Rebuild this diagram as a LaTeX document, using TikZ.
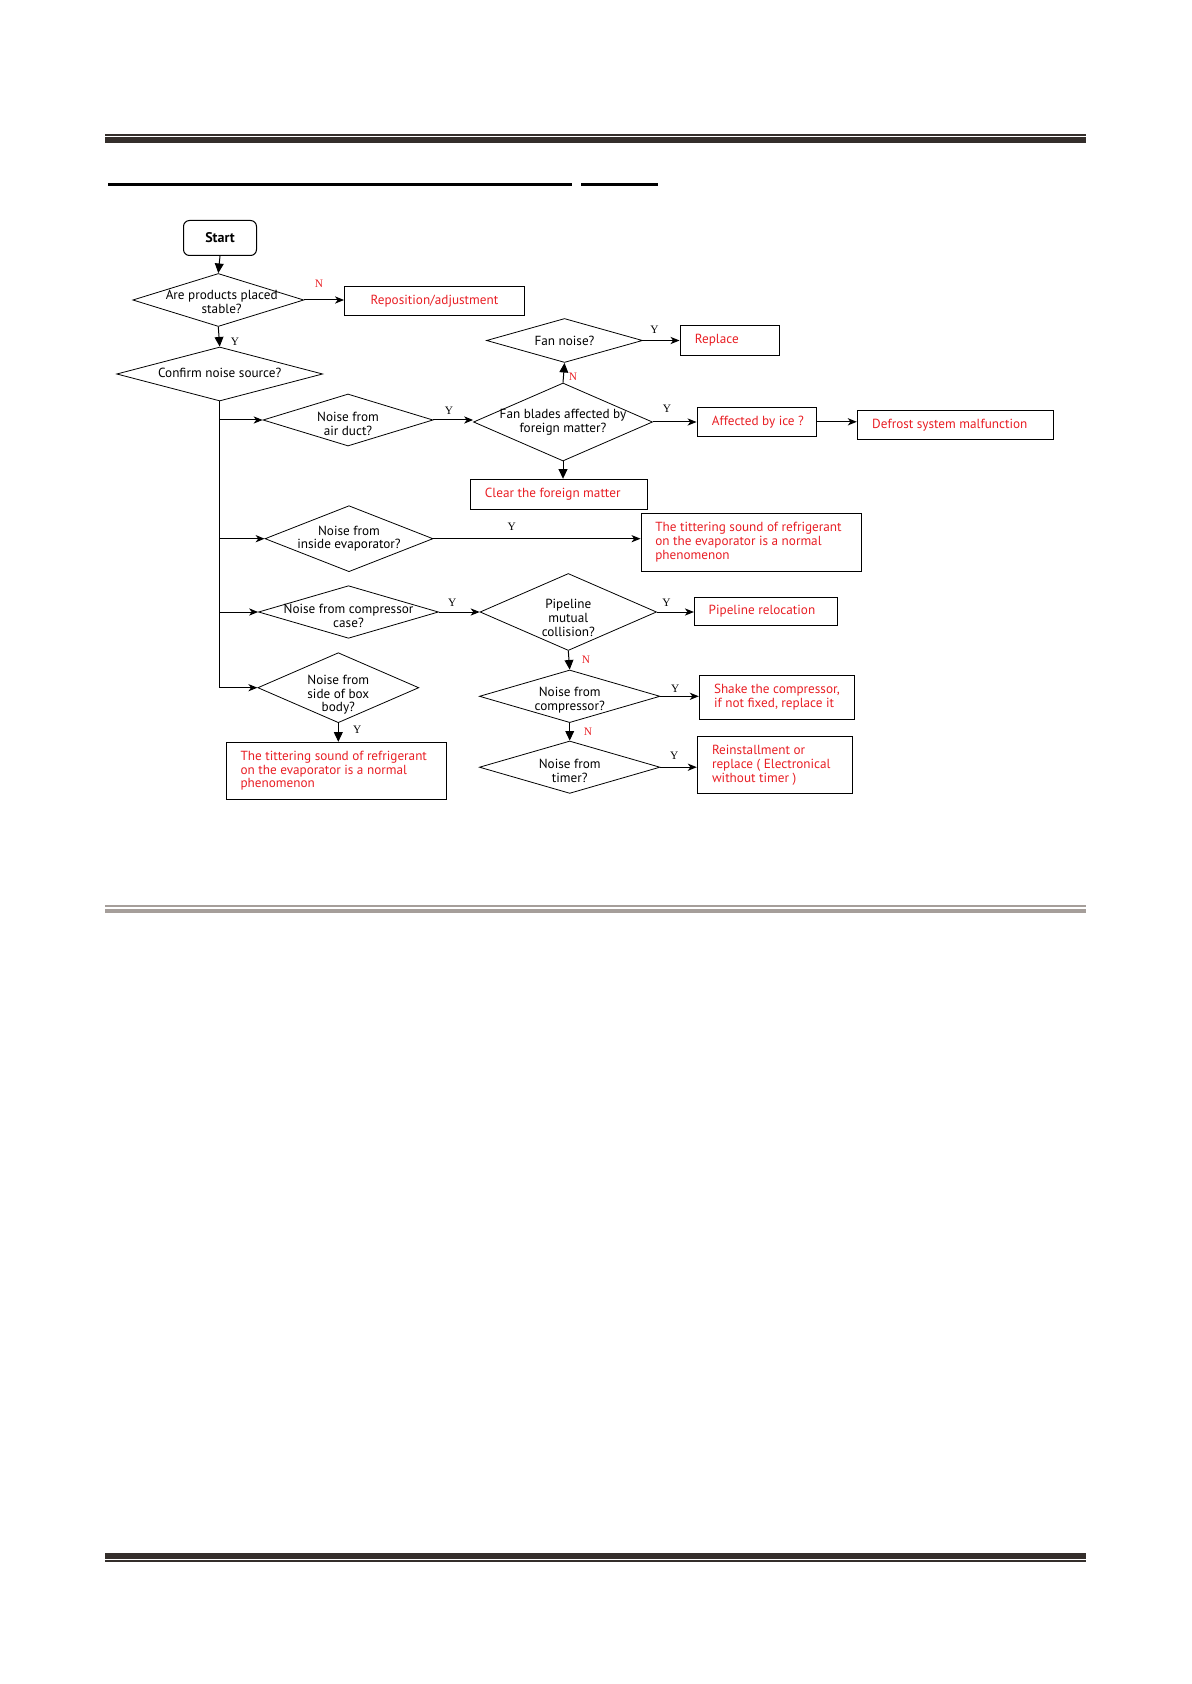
\documentclass[tikz,border=0pt]{standalone}
\usepackage{fontspec}
\setmainfont{PT Sans}
\newfontfamily\ynfont{Liberation Serif}
\usetikzlibrary{
    arrows.meta,
    shapes.geometric,
    calc
}
\definecolor{answerred}{RGB}{232,30,36}
\definecolor{ruledark}{RGB}{52,46,43}
\definecolor{rulegray}{RGB}{165,158,154}
\newcommand{\qfont}{\fontsize{6.6}{6.9}\selectfont}
\tikzset{
    % Boxes and questions
    startbox/.style={draw,rounded corners=3pt,line width=.5pt,minimum width=36.5pt,minimum height=17.5pt,inner sep=0pt,font=\fontsize{7}{8}\selectfont\bfseries},
    question/.style={diamond,draw,line width=.4pt,inner sep=0pt},
    qsize/.style 2 args={minimum width=#1pt,minimum height=#2pt},
    qtext/.style={font=\qfont,align=center,inner sep=0pt},
    answer/.style={draw,line width=.5pt,inner sep=0pt},
    answertext/.style={anchor=west,align=left,inner sep=0pt,font=\qfont,text=answerred},
    %
    % Y/N marks
    yes/.style={font=\ynfont\fontsize{5.7}{6}\selectfont,inner sep=0pt},
    no/.style={yes,text=answerred},
    %
    % Arrows
    arr/.style={-{Stealth[length=4.5pt,width=3.6pt,inset=1.3pt]},line width=.5pt},
    darr/.style={-{Triangle[length=4.8pt,width=4.4pt]},line width=.5pt}
}

\begin{document}
\begin{tikzpicture}[x=0.5pt,y=-0.5pt]
    \useasboundingbox (0,0) rectangle (1191,1684);
    % page rules
    \fill[ruledark] (105,134) rectangle (1086,135.7);
    \fill[ruledark] (105,137.3) rectangle (1086,142.7);
    \fill[black] (108,182.7) rectangle (572,185.7);
    \fill[black] (581,182.7) rectangle (657.5,185.7);
    \fill[rulegray] (105,905) rectangle (1086,906.7);
    \fill[rulegray] (105,909) rectangle (1086,912.7);
    \fill[ruledark] (105,1553) rectangle (1086,1559);
    \fill[ruledark] (105,1560) rectangle (1086,1561.7);

    % left column
    \node[startbox] (start) at (220,238) {Start};
    \node[question,qsize={85.5}{26.5},label={[qtext,yshift=-1pt,xshift=1.7pt]center:{Are products placed\\stable?}}] (stable) at (218.3,300) {};
    \node[answer,minimum width=90pt,minimum height=14.5pt,font=\qfont,text=answerred] (repos) at (434.5,301) {Reposition/adjustment};
    \node[question,qsize={103}{27},label={[qtext,yshift=.5pt]center:{Confirm noise source?}}] (source) at (219.7,374) {};
    \node[question,qsize={85}{26},label={[qtext,yshift=-2pt]center:{Noise from\\air duct?}}] (duct) at (348,420) {};
    \node[question,qsize={84}{33},label={[qtext]center:{Noise from\\inside evaporator?}}] (evap) at (349,538.7) {};
    \node[question,qsize={90}{26.3},label={[qtext,yshift=-2pt]center:{Noise from compressor\\case?}}] (case) at (348.5,612) {};
    \node[question,qsize={80.5}{35},label={[qtext,yshift=-3.5pt]center:{Noise from\\side of box\\body?}}] (side) at (338.3,687.7) {};
    \node[answer,minimum width=110pt,minimum height=28.5pt] (normal2) at (336.7,770.8) {};
    \node[answertext] (normal2 text) at ([xshift=7pt]normal2.west) {The tittering sound of refrigerant\\on the evaporator is a normal\\phenomenon};

    % fan branch
    \node[question,qsize={89.5}{39},label={[qtext]center:{Fan blades affected by\\foreign matter?}}] (blades) at (563,422) {};
    \node[question,qsize={78}{22},label={[qtext]center:{Fan noise?}}] (fan) at (564.5,340.5) {};
    \node[answer,minimum width=49.7pt,minimum height=14.9pt] (replace) at (729.7,340.2) {};
    \node[answertext] (replace text) at ([xshift=7.5pt]replace.west) {Replace};
    \node[answer,minimum width=59.75pt,minimum height=14.5pt] (ice) at (756.8,421.8) {};
    \node[answertext] (ice text) at ([xshift=7.5pt]ice.west) {Affected by ice ?};
    \node[answer,minimum width=98pt,minimum height=14.5pt] (defrost) at (955.3,424.8) {};
    \node[answertext] (defrost text) at ([xshift=7.5pt]defrost.west) {Defrost system malfunction};
    \node[answer,minimum width=88.65pt,minimum height=15pt] (clear) at (558.7,494.3) {};
    \node[answertext] (clear text) at ([xshift=7.5pt]clear.west) {Clear the foreign matter};
    \node[answer,minimum width=110.3pt,minimum height=29pt] (normal1) at (751.3,542.3) {};
    \node[answertext] (normal1 text) at ([xshift=7.2pt]normal1.west) {The tittering sound of refrigerant\\on the evaporator is a normal\\phenomenon};

    % compressor branch
    \node[question,qsize={88.25}{38.5},label={[qtext,yshift=-3pt]center:{Pipeline\\mutual\\collision?}}] (pipe) at (568.3,612) {};
    \node[answer,minimum width=71.6pt,minimum height=14pt] (reloc) at (766,611.3) {};
    \node[answertext] (reloc text) at ([xshift=7.2pt]reloc.west) {Pipeline relocation};
    \node[question,qsize={90.3}{26.3},label={[qtext,yshift=-2pt]center:{Noise from\\compressor?}}] (comp) at (569.7,696.3) {};
    \node[answer,minimum width=77.5pt,minimum height=21.8pt] (shake) at (776.8,697.5) {};
    \node[answertext] (shake text) at ([xshift=7.4pt]shake.west) {Shake the compressor,\\if not fixed, replace it};
    \node[question,qsize={90.3}{26.2},label={[qtext,yshift=-2pt]center:{Noise from\\timer?}}] (timer) at (569.7,767.2) {};
    \node[answer,minimum width=77.5pt,minimum height=28.3pt] (reinst) at (774.8,765) {};
    \node[answertext] (reinst text) at ([xshift=7.4pt]reinst.west) {Reinstallment or\\replace ( Electronical\\without timer )};

    % Y/N marks
    \node[no] (n1) at (319,284) {N};
    \node[yes] (y1) at (235,342) {Y};
    \node[yes] (y2) at (449,410.7) {Y};
    \node[no] (n2) at (573,377) {N};
    \node[yes] (y3) at (654.4,329.3) {Y};
    \node[yes] (y4) at (667,408.3) {Y};
    \node[yes] (y5) at (511.7,526.7) {Y};
    \node[yes] (y6) at (452.2,602.3) {Y};
    \node[yes] (y7) at (666.5,602.3) {Y};
    \node[no] (n3) at (586,660) {N};
    \node[yes] (y8) at (675.3,688.3) {Y};
    \node[no] (n4) at (588,731.7) {N};
    \node[yes] (y9) at (674.3,756) {Y};
    \node[yes] (y10) at (357.3,730) {Y};

    % connectors
    \draw[darr] (start.south) -- (stable.north);
    \draw[arr] (stable.east) -- (stable.east -| repos.west);
    \draw[darr] (stable.south) -- (source.north);
    \draw[arr] (source.south) |- (side.west);
    \draw[arr] (source.south |- duct.west) -- (duct.west);
    \draw[arr] (source.south |- evap.west) -- (evap.west);
    \draw[arr] (source.south |- case.west) -- (case.west);
    \draw[arr] (duct.east) -- (duct.east -| blades.west);
    \draw[darr] (blades.north) -- (fan.south);
    \draw[arr] (fan.east) -- (fan.east -| replace.west);
    \draw[arr] (blades.east) -- (blades.east -| ice.west);
    \draw[arr] (ice.east) -- (ice.east -| defrost.west);
    \draw[darr] (blades.south) -- (blades.south |- clear.north);
    \draw[arr] (evap.east) -- (evap.east -| normal1.west);
    \draw[arr] (case.east) -- (case.east -| pipe.west);
    \draw[arr] (pipe.east) -- (pipe.east -| reloc.west);
    \draw[darr] (pipe.south) -- (comp.north);
    \draw[arr] (comp.east) -- (comp.east -| shake.west);
    \draw[darr] (comp.south) -- (timer.north);
    \draw[arr] (timer.east) -- (timer.east -| reinst.west);
    \draw[darr] (side.south) -- (side.south |- normal2.north);
\end{tikzpicture}
\end{document}
